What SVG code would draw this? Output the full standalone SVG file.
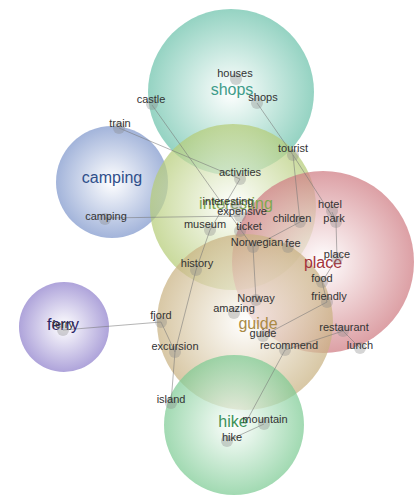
<svg xmlns="http://www.w3.org/2000/svg" width="419" height="495" viewBox="0 0 419 495">
<style>
.w{font-family:"Liberation Sans",Arial,sans-serif;font-size:11px;fill:#333;text-anchor:middle}
.t{font-family:"Liberation Sans",Arial,sans-serif;font-size:16px;text-anchor:middle}
.d{fill:#888;fill-opacity:0.35}
.c{stroke:none;opacity:0.72}
#edges line{stroke:#777;stroke-opacity:0.55;stroke-width:1}
</style>
<defs>
<radialGradient id="gShops"><stop offset="0" stop-color="#ffffff"/><stop offset="1" stop-color="#6cc2ab"/></radialGradient>
<radialGradient id="gCamp"><stop offset="0" stop-color="#ffffff"/><stop offset="1" stop-color="#7f97cc"/></radialGradient>
<radialGradient id="gInt"><stop offset="0" stop-color="#ffffff"/><stop offset="1" stop-color="#b5cc77"/></radialGradient>
<radialGradient id="gPlace"><stop offset="0" stop-color="#ffffff"/><stop offset="1" stop-color="#cf7b82"/></radialGradient>
<radialGradient id="gGuide"><stop offset="0" stop-color="#ffffff"/><stop offset="1" stop-color="#c9b282"/></radialGradient>
<radialGradient id="gFerry"><stop offset="0" stop-color="#ffffff"/><stop offset="1" stop-color="#8f80cc"/></radialGradient>
<radialGradient id="gHike"><stop offset="0" stop-color="#ffffff"/><stop offset="1" stop-color="#7dcb94"/></radialGradient>
</defs>
<rect width="419" height="495" fill="#ffffff"/>
<g id="topic-shops"><circle class="c" cx="231" cy="92" r="83" fill="url(#gShops)"/></g>
<g id="topic-camping"><circle class="c" cx="112" cy="182" r="56" fill="url(#gCamp)"/></g>
<g id="topic-interesting"><circle class="c" cx="233" cy="207" r="83" fill="url(#gInt)"/></g>
<g id="topic-place"><circle class="c" cx="323" cy="262" r="91" fill="url(#gPlace)"/></g>
<g id="topic-guide"><circle class="c" cx="245" cy="322" r="88" fill="url(#gGuide)"/></g>
<g id="topic-ferry"><circle class="c" cx="64" cy="327" r="45" fill="url(#gFerry)"/></g>
<g id="topic-hike"><circle class="c" cx="234" cy="425" r="70" fill="url(#gHike)"/></g>
<g id="edges">
<line x1="152" y1="105" x2="253" y2="247"/>
<line x1="119" y1="128" x2="240" y2="179"/>
<line x1="240" y1="179" x2="210" y2="230"/>
<line x1="257" y1="103" x2="293" y2="155"/>
<line x1="293" y1="155" x2="336" y2="222"/>
<line x1="293" y1="155" x2="300" y2="222"/>
<line x1="332" y1="212" x2="336" y2="222"/>
<line x1="336" y1="222" x2="337" y2="258"/>
<line x1="337" y1="258" x2="322" y2="282"/>
<line x1="322" y1="282" x2="327" y2="302"/>
<line x1="300" y1="222" x2="253" y2="247"/>
<line x1="253" y1="247" x2="256" y2="300"/>
<line x1="105" y1="218" x2="240" y2="216"/>
<line x1="210" y1="230" x2="196" y2="270"/>
<line x1="196" y1="270" x2="175" y2="352"/>
<line x1="161" y1="322" x2="175" y2="352"/>
<line x1="175" y1="352" x2="171" y2="403"/>
<line x1="63" y1="330" x2="161" y2="322"/>
<line x1="327" y1="302" x2="263" y2="336"/>
<line x1="285" y1="350" x2="343" y2="331"/>
<line x1="343" y1="331" x2="360" y2="348"/>
<line x1="285" y1="350" x2="245" y2="424"/>
<line x1="264" y1="424" x2="227" y2="441"/>
</g>
<g id="topic-labels">
<text class="t" x="232" y="95" fill="#3f9c8a">shops</text>
<text class="t" x="112" y="183" fill="#2f4f8a">camping</text>
<text class="t" x="236" y="209" fill="#7ea850">interesting</text>
<text class="t" x="323" y="268" fill="#a3333a">place</text>
<text class="t" x="258" y="329" fill="#a98a45">guide</text>
<text class="t" x="63" y="330" fill="#2c2466" font-size="14">ferry</text>
<text class="t" x="233" y="427" fill="#3c9158">hike</text>
</g>
<g id="n-houses"><circle class="d" cx="236" cy="79" r="6"/><text class="w" x="235" y="77">houses</text></g>
<g id="n-shops"><circle class="d" cx="257" cy="103" r="6"/><text class="w" x="263" y="101">shops</text></g>
<g id="n-castle"><circle class="d" cx="152" cy="104" r="6"/><text class="w" x="151" y="103">castle</text></g>
<g id="n-train"><circle class="d" cx="119" cy="128" r="6"/><text class="w" x="120" y="127">train</text></g>
<g id="n-tourist"><circle class="d" cx="293" cy="155" r="6"/><text class="w" x="293" y="152">tourist</text></g>
<g id="n-activities"><circle class="d" cx="240" cy="179" r="6"/><text class="w" x="240" y="176">activities</text></g>
<g id="n-interesting"><circle class="d" cx="236" cy="206" r="6"/><text class="w" x="228" y="205">interesting</text></g>
<g id="n-expensive"><circle class="d" cx="240" cy="216" r="6"/><text class="w" x="242" y="215">expensive</text></g>
<g id="n-museum"><circle class="d" cx="210" cy="230" r="6"/><text class="w" x="205" y="228">museum</text></g>
<g id="n-ticket"><circle class="d" cx="240" cy="231" r="6"/><text class="w" x="249" y="230">ticket</text></g>
<g id="n-norwegian"><circle class="d" cx="253" cy="247" r="6"/><text class="w" x="257" y="246">Norwegian</text></g>
<g id="n-fee"><circle class="d" cx="288" cy="247" r="6"/><text class="w" x="293" y="247">fee</text></g>
<g id="n-children"><circle class="d" cx="300" cy="222" r="6"/><text class="w" x="292" y="222">children</text></g>
<g id="n-hotel"><circle class="d" cx="332" cy="211" r="6"/><text class="w" x="330" y="208">hotel</text></g>
<g id="n-park"><circle class="d" cx="336" cy="222" r="6"/><text class="w" x="334" y="222">park</text></g>
<g id="n-place"><circle class="d" cx="337" cy="258" r="6"/><text class="w" x="337" y="258">place</text></g>
<g id="n-food"><circle class="d" cx="322" cy="282" r="6"/><text class="w" x="322" y="282">food</text></g>
<g id="n-friendly"><circle class="d" cx="327" cy="302" r="6"/><text class="w" x="329" y="300">friendly</text></g>
<g id="n-camping"><circle class="d" cx="105" cy="219" r="6"/><text class="w" x="106" y="220">camping</text></g>
<g id="n-history"><circle class="d" cx="196" cy="270" r="6"/><text class="w" x="197" y="267">history</text></g>
<g id="n-norway"><circle class="d" cx="256" cy="300" r="6"/><text class="w" x="256" y="302">Norway</text></g>
<g id="n-amazing"><circle class="d" cx="234" cy="313" r="6"/><text class="w" x="234" y="312">amazing</text></g>
<g id="n-guide"><circle class="d" cx="263" cy="336" r="6"/><text class="w" x="263" y="337">guide</text></g>
<g id="n-recommend"><circle class="d" cx="285" cy="350" r="6"/><text class="w" x="289" y="349">recommend</text></g>
<g id="n-restaurant"><circle class="d" cx="343" cy="331" r="6"/><text class="w" x="344" y="331">restaurant</text></g>
<g id="n-lunch"><circle class="d" cx="360" cy="348" r="6"/><text class="w" x="360" y="349">lunch</text></g>
<g id="n-fjord"><circle class="d" cx="161" cy="322" r="6"/><text class="w" x="161" y="319">fjord</text></g>
<g id="n-excursion"><circle class="d" cx="175" cy="352" r="6"/><text class="w" x="175" y="350">excursion</text></g>
<g id="n-island"><circle class="d" cx="171" cy="403" r="6"/><text class="w" x="171" y="403">island</text></g>
<g id="n-ferry"><circle class="d" cx="63" cy="330" r="6"/><text class="w" x="63" y="328">ferry</text></g>
<g id="n-mountain"><circle class="d" cx="264" cy="424" r="6"/><text class="w" x="265" y="423">mountain</text></g>
<g id="n-hike"><circle class="d" cx="227" cy="441" r="6"/><text class="w" x="232" y="441">hike</text></g>
</svg>
